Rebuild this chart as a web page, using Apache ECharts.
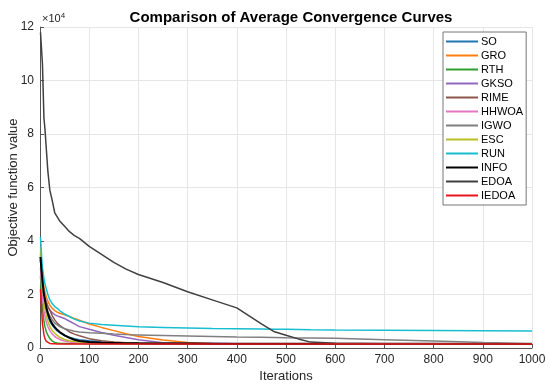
<!DOCTYPE html>
<html><head><meta charset="utf-8">
<script src="https://cdn.jsdelivr.net/npm/echarts@6/dist/echarts.min.js"></script>
<style>html,body{margin:0;padding:0;background:#fff}#c{width:550px;height:392px}</style>
</head><body><div id="c"></div>
<script>
// values in units of 1e4
var iters = [1,3,5,8,10,13,16,20,25,30,35,40,50,60,70,80,100,125,150,175,200,250,300,350,400,450,475,500,525,550,600,700,800,900,1000];
var seriesNames = ['SO','GRO','RTH','GKSO','RIME','HHWOA','IGWO','ESC','RUN','INFO','EDOA','IEDOA'];
var colors = ['#1f77b4','#ff7f0e','#2ca02c','#9467bd','#8c564b','#e377c2','#7f7f7f','#bcbd22','#17becf','#000000','#404040','#e8141c'];
var SO    = [3.3,2.7,2.3,1.85,1.65,1.4,1.2,1.0,0.85,0.73,0.64,0.57,0.47,0.4,0.35,0.31,0.27,0.23,0.21,0.2,0.19,0.18,0.17,0.165,0.16,0.16,0.16,0.16,0.16,0.16,0.16,0.16,0.16,0.16,0.16];
var GRO   = [3.6,3.1,2.7,2.3,2.1,1.9,1.75,1.6,1.48,1.4,1.34,1.3,1.24,1.18,1.1,1.04,0.9,0.77,0.65,0.53,0.43,0.3,0.21,0.17,0.16,0.16,0.16,0.16,0.16,0.16,0.16,0.16,0.16,0.16,0.16];
var RTH   = [2.7,2.0,1.5,1.0,0.8,0.6,0.48,0.35,0.26,0.21,0.19,0.18,0.17,0.17,0.165,0.165,0.16,0.16,0.16,0.16,0.16,0.16,0.16,0.16,0.16,0.16,0.16,0.16,0.16,0.16,0.16,0.16,0.16,0.16,0.16];
var GKSO  = [3.4,2.9,2.5,2.1,1.9,1.7,1.55,1.42,1.32,1.25,1.2,1.17,1.1,1.0,0.9,0.8,0.7,0.58,0.48,0.39,0.31,0.2,0.17,0.165,0.16,0.16,0.16,0.16,0.16,0.16,0.16,0.16,0.16,0.16,0.16];
var RIME  = [3.3,2.8,2.4,2.0,1.85,1.7,1.55,1.42,1.2,1.05,0.93,0.85,0.72,0.6,0.52,0.46,0.35,0.27,0.22,0.2,0.18,0.17,0.165,0.16,0.16,0.16,0.16,0.16,0.16,0.16,0.16,0.16,0.16,0.16,0.16];
var HHWOA = [3.0,2.4,1.9,1.4,1.2,0.95,0.8,0.65,0.52,0.43,0.37,0.32,0.26,0.22,0.2,0.19,0.18,0.17,0.17,0.165,0.165,0.16,0.16,0.16,0.16,0.16,0.16,0.16,0.16,0.16,0.16,0.16,0.16,0.16,0.16];
var IGWO  = [3.5,2.8,2.3,1.9,1.7,1.5,1.35,1.2,1.05,0.93,0.86,0.8,0.72,0.67,0.63,0.6,0.57,0.55,0.52,0.5,0.49,0.47,0.45,0.43,0.41,0.4,0.39,0.38,0.375,0.37,0.36,0.31,0.26,0.21,0.17];
var ESC   = [3.8,3.0,2.4,1.8,1.5,1.2,1.0,0.8,0.65,0.55,0.47,0.4,0.32,0.27,0.24,0.22,0.2,0.19,0.18,0.175,0.17,0.165,0.16,0.16,0.16,0.16,0.16,0.16,0.16,0.16,0.16,0.16,0.16,0.16,0.16];
var RUN   = [4.15,3.5,3.0,2.6,2.4,2.2,2.0,1.8,1.65,1.55,1.48,1.4,1.27,1.17,1.08,1.01,0.93,0.88,0.85,0.82,0.79,0.77,0.75,0.73,0.72,0.71,0.7,0.7,0.69,0.68,0.67,0.66,0.65,0.645,0.64];
var INFO  = [3.4,2.9,2.5,2.0,1.8,1.5,1.3,1.08,0.9,0.78,0.68,0.6,0.47,0.38,0.31,0.26,0.22,0.2,0.19,0.18,0.175,0.17,0.165,0.16,0.16,0.16,0.16,0.16,0.16,0.16,0.155,0.155,0.155,0.15,0.15];
var EDOA  = [11.8,11.2,10.6,8.6,8.2,7.4,6.6,5.9,5.5,5.05,4.9,4.75,4.55,4.35,4.2,4.1,3.8,3.5,3.2,2.95,2.75,2.45,2.1,1.8,1.5,0.9,0.62,0.48,0.34,0.22,0.18,0.16,0.16,0.15,0.15];
var IEDOA = [2.2,1.5,0.9,0.5,0.35,0.25,0.2,0.17,0.16,0.155,0.15,0.15,0.15,0.15,0.15,0.15,0.15,0.15,0.15,0.15,0.15,0.15,0.15,0.15,0.15,0.15,0.15,0.15,0.15,0.15,0.15,0.15,0.15,0.15,0.15];
var allValues = [SO,GRO,RTH,GKSO,RIME,HHWOA,IGWO,ESC,RUN,INFO,EDOA,IEDOA];
var yTicks = [0,2,4,6,8,10,12];

var chart = echarts.init(document.getElementById('c'));
var series = seriesNames.map(function(n,i){
  return {
    name:n, type:'line', symbol:'none', showSymbol:false, animation:false,
    data: iters.map(function(x,k){return [x, allValues[i][k]];}),
    lineStyle:{color:colors[i], width: n==='INFO'?2:1.5},
    itemStyle:{color:colors[i]}, z: 2+i
  };
});
var font = 'Liberation Sans, Arial, sans-serif';
chart.setOption({
  animation:false,
  textStyle:{fontFamily:font},
  title:{text:'Comparison of Average Convergence Curves', left:286, top:5, textAlign:'center',
    textStyle:{fontSize:15, fontWeight:'bold', color:'#000', fontFamily:font}},
  grid:{left:40, right:18, top:27, bottom:44, containLabel:false, outerBoundsMode:'none'},
  legend:{orient:'vertical', left:443, top:32, icon:'rect', itemWidth:32, itemHeight:2, itemGap:3,
    backgroundColor:'#fff', borderColor:'#777', borderWidth:1, borderRadius:0, padding:[4,3,4,3],
    data:seriesNames, textStyle:{fontSize:11, color:'#000', fontFamily:font, padding:[0,0,0,-2]}},
  graphic:[{type:'text', left:42, top:12, style:{text:'{a|×10}{b|4}', rich:{a:{fontSize:11,fill:'#262626',fontFamily:font}, b:{fontSize:8, fill:'#262626', verticalAlign:'top', padding:[0,0,6,0], fontFamily:font}}}}],
  xAxis:{type:'value', min:0, max:1000, interval:100, name:'Iterations', nameLocation:'middle', nameGap:22, nameMoveOverlap:false,
    nameTextStyle:{fontSize:13, color:'#262626'},
    axisLine:{show:true, onZero:false, lineStyle:{color:'#555', width:1}},
    axisTick:{show:true, inside:true, length:4, lineStyle:{color:'#555'}},
    axisLabel:{fontSize:12, color:'#262626', margin:6, formatter:function(v){return String(v);}},
    splitLine:{show:true, lineStyle:{color:'#e6e6e6', width:1}}},
  yAxis:{type:'value', min:0, max:12, interval:2, name:'Objective function value', nameLocation:'middle', nameGap:20, nameMoveOverlap:false,
    nameTextStyle:{fontSize:13, color:'#262626'},
    axisLine:{show:true, onZero:false, lineStyle:{color:'#555', width:1}},
    axisTick:{show:true, inside:true, length:4, lineStyle:{color:'#555'}},
    axisLabel:{fontSize:12, color:'#262626', margin:6,
      formatter:function(v){return yTicks.indexOf(v)>=0?String(v):'';}},
    splitLine:{show:true, lineStyle:{color:'#e6e6e6', width:1}}},
  series:series
});
</script></body></html>
